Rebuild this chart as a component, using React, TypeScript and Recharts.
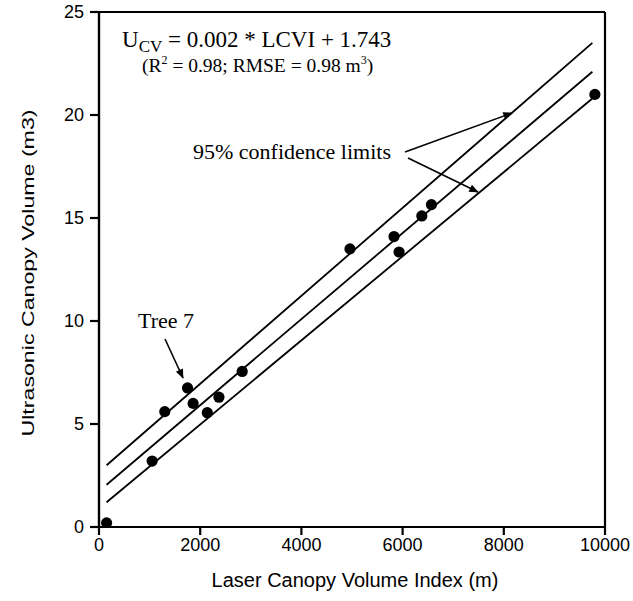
import React from "react";
import { ScatterChart, Scatter, XAxis, YAxis, ZAxis, ReferenceLine } from "recharts";

// LCVI (m) and ultrasonic canopy volume (m3) per tree
const lcvi = [150, 1050, 1300, 1750, 1860, 2140, 2370, 2830, 4960, 5830, 5930, 6380, 6570, 9800];
const ucv = [0.2, 3.2, 5.6, 6.75, 6.0, 5.55, 6.3, 7.55, 13.5, 14.1, 13.35, 15.1, 15.65, 21.0];

// regression line and 95% confidence limits (end points)
const lineX = [150, 9750];
const upperY = [3.0, 23.5];
const fitY = [2.05, 22.1];
const lowerY = [1.2, 20.8];

const xTicks = [0, 2000, 4000, 6000, 8000, 10000];
const yTicks = [0, 5, 10, 15, 20, 25];
const xMax = 10000;
const yMax = 25;

const points = lcvi.map((x, i) => ({ x, y: ucv[i] }));
const mk = (ys: number[]) => lineX.map((x, i) => ({ x, y: ys[i] }));
const upper = mk(upperY);
const fit = mk(fitY);
const lower = mk(lowerY);

const sans = "'Liberation Sans', Arial, sans-serif";
const serif = "'Liberation Serif', 'Times New Roman', serif";
const tickStyle = { fontSize: 18, fill: "#000", fontFamily: sans };
const noShape = () => <g />;
const dot = (p: any) => <circle cx={p.cx} cy={p.cy} r={5.6} fill="#000" />;

export default function App() {
  return (
    <div style={{ position: "absolute", left: 0, top: 0, width: 633, height: 601, background: "#fff" }}>
      <ScatterChart width={633} height={601} margin={{ top: 12, right: 28, bottom: 0, left: 0 }}>
        <XAxis
          type="number"
          dataKey="x"
          domain={[0, xMax]}
          ticks={xTicks}
          height={74}
          tickSize={8}
          tickMargin={3}
          tick={tickStyle}
          stroke="#000"
          axisLine={{ stroke: "#000", strokeWidth: 2.2 }}
          tickLine={{ stroke: "#000", strokeWidth: 2.2 }}
          allowDataOverflow
        />
        <YAxis
          type="number"
          dataKey="y"
          domain={[0, yMax]}
          ticks={yTicks}
          width={99}
          tickSize={9}
          tickMargin={6}
          tick={tickStyle}
          stroke="#000"
          axisLine={{ stroke: "#000", strokeWidth: 2.2 }}
          tickLine={{ stroke: "#000", strokeWidth: 2.2 }}
          allowDataOverflow
        />
        <ZAxis range={[100, 100]} />
        <ReferenceLine y={yMax} stroke="#000" strokeWidth={2.2} ifOverflow="visible" />
        <ReferenceLine x={xMax} stroke="#000" strokeWidth={2.2} ifOverflow="visible" />
        <ReferenceLine y={0} stroke="#000" strokeWidth={2.2} ifOverflow="visible" />
        <ReferenceLine x={0} stroke="#000" strokeWidth={2.2} ifOverflow="visible" />
        <Scatter data={upper} line={{ stroke: "#000", strokeWidth: 1.8 }} shape={noShape} isAnimationActive={false} />
        <Scatter data={fit} line={{ stroke: "#000", strokeWidth: 1.8 }} shape={noShape} isAnimationActive={false} />
        <Scatter data={lower} line={{ stroke: "#000", strokeWidth: 1.8 }} shape={noShape} isAnimationActive={false} />
        <Scatter data={points} fill="#000" shape={dot} isAnimationActive={false} />
      </ScatterChart>
      <svg width={633} height={601} style={{ position: "absolute", left: 0, top: 0, pointerEvents: "none" }}>
        <defs>
          <marker id="ah" viewBox="0 0 10 10" refX="9" refY="5" markerWidth="7" markerHeight="6" orient="auto-start-reverse" markerUnits="strokeWidth">
            <path d="M0,1 L10,5 L0,9 z" fill="#000" />
          </marker>
        </defs>
        <text x={122} y={47} fontFamily={serif} fontSize={23} fill="#000">
          U<tspan fontSize={17} dy={5}>CV</tspan>
          <tspan dy={-5}> = 0.002 * LCVI + 1.743</tspan>
        </text>
        <text x={142} y={72} fontFamily={serif} fontSize={19.5} fill="#000">
          (R<tspan fontSize={12} dy={-8}>2</tspan>
          <tspan dy={8}> = 0.98; RMSE = 0.98 m</tspan>
          <tspan fontSize={12} dy={-8}>3</tspan>
          <tspan dy={8}>)</tspan>
        </text>
        <text x={193} y={159} fontFamily={serif} fontSize={22} fill="#000">95% confidence limits</text>
        <text x={138} y={328} fontFamily={serif} fontSize={22} fill="#000">Tree 7</text>
        <line x1={165} y1={339} x2={183} y2={378} stroke="#000" strokeWidth={1.6} markerEnd="url(#ah)" />
        <line x1={405} y1={152} x2={512} y2={113} stroke="#000" strokeWidth={1.6} markerEnd="url(#ah)" />
        <line x1={408} y1={158} x2={478} y2={192} stroke="#000" strokeWidth={1.6} markerEnd="url(#ah)" />
        <text x={355} y={587} textAnchor="middle" fontFamily={sans} fontSize={20} fill="#000">Laser Canopy Volume Index (m)</text>
        <text
          x={0}
          y={0}
          transform="translate(34,273) rotate(-90)"
          textAnchor="middle"
          fontFamily={sans}
          fontSize={17}
          fill="#000"
          textLength={327}
          lengthAdjust="spacingAndGlyphs"
        >
          Ultrasonic Canopy Volume (m3)
        </text>
      </svg>
    </div>
  );
}
